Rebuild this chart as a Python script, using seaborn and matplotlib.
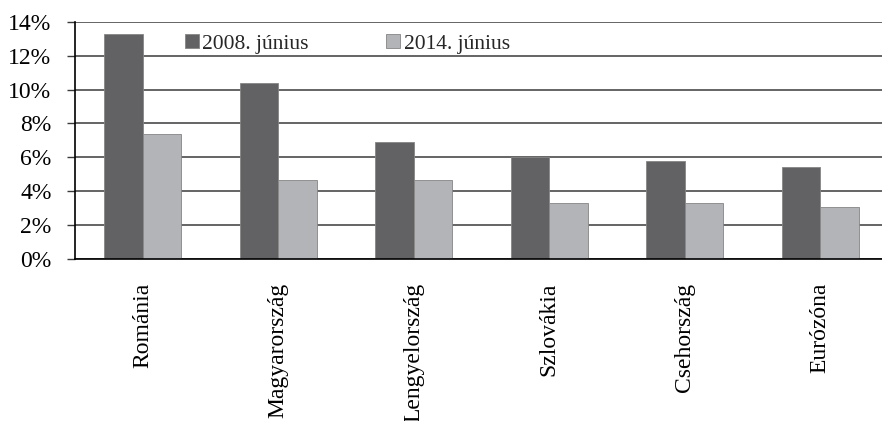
import pandas as pd
import matplotlib
matplotlib.use('Agg')
import matplotlib.pyplot as plt
import seaborn as sns

orszagok = ['Románia', 'Magyarország', 'Lengyelország', 'Szlovákia', 'Csehország', 'Eurózóna']
ertek_2008 = [13.3, 10.4, 6.93, 6.04, 5.81, 5.45]
ertek_2014 = [7.4, 4.69, 4.69, 3.29, 3.29, 3.09]
idoszakok = ['2008. június', '2014. június']
szinek = ['#626264', '#b3b4b7']
y_ticks = [0, 2, 4, 6, 8, 10, 12, 14]

df = pd.DataFrame({
    'Ország': orszagok * 2,
    'Érték': ertek_2008 + ertek_2014,
    'Időszak': [idoszakok[0]] * len(orszagok) + [idoszakok[1]] * len(orszagok),
})

sns.set_theme(style='white')
plt.rcParams['font.family'] = ['Liberation Serif', 'DejaVu Serif']

fig = plt.figure(figsize=(8.82, 4.21), dpi=100)
ax = fig.add_axes([75 / 882, 162 / 421, 813 / 882, 237.3 / 421])

sns.barplot(data=df, x='Ország', y='Érték', hue='Időszak', order=orszagok,
            hue_order=idoszakok, palette=szinek, width=0.57, saturation=1,
            edgecolor='#858585', linewidth=0.6, ax=ax, zorder=3)

ax.set_xlim(-0.5, len(orszagok) - 0.5)
ax.set_ylim(0, 14)
ax.set_yticks(y_ticks)
ax.set_yticklabels([f'{v}%' for v in y_ticks], fontsize=17, color='black')
ax.yaxis.grid(True, color='#3a3a3a', linewidth=1.1, zorder=0)
ax.xaxis.grid(False)
ax.set_axisbelow(True)

ax.set_xticks(range(len(orszagok)))
ax.set_xticklabels(orszagok, rotation=90, fontsize=17, color='black')
ax.set_xticks([i - 0.5 for i in range(len(orszagok) + 1)], minor=True)
ax.tick_params(axis='x', which='major', length=0, pad=17)
ax.tick_params(axis='x', which='minor', length=5.5, width=1, color='black', direction='out')
ax.tick_params(axis='y', which='major', length=6, width=1, color='#3a3a3a', direction='out', pad=11, left=True)

ax.set_xlabel('')
ax.set_ylabel('')
for s in ['top', 'right']:
    ax.spines[s].set_visible(False)
for s in ['left', 'bottom']:
    ax.spines[s].set_color('black')
    ax.spines[s].set_linewidth(1.2)
    ax.spines[s].set_zorder(4)

ax.legend(loc='upper left', bbox_to_anchor=(0.125, 0.985), ncol=2, frameon=False,
          fontsize=15.5, handlelength=0.65, handleheight=0.65, handletextpad=0.15,
          columnspacing=3.6, borderaxespad=0)

fig.savefig('out.png', dpi=100)
